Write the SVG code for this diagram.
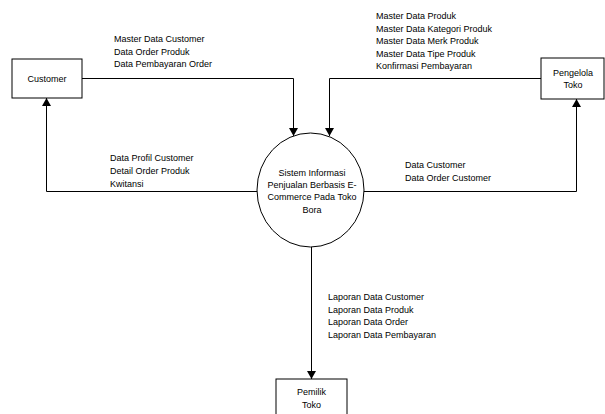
<svg xmlns="http://www.w3.org/2000/svg" width="605" height="414" viewBox="0 0 605 414">
<defs>
<marker id="arr" markerWidth="8" markerHeight="9" refX="8" refY="4.5" orient="auto" markerUnits="userSpaceOnUse">
<path d="M0,0 L8,4.5 L0,9 Z" fill="#000"/>
</marker>
<style>
text{font-family:"Liberation Sans",Arial,sans-serif;font-size:9px;fill:#000}
.c{text-anchor:middle}
.box{fill:#fff;stroke:#000;stroke-width:1}
.ln{fill:none;stroke:#000;stroke-width:1;marker-end:url(#arr)}
</style>
</defs>
<rect width="605" height="414" fill="#fff"/>
<g id="connectors">
<path class="ln" d="M82,78.5 H293.5 V136"/>
<path class="ln" d="M541,78.5 H329.5 V136"/>
<path class="ln" d="M257,191.5 H46.5 V98"/>
<path class="ln" d="M364,191.5 H576.5 V99"/>
<path class="ln" d="M311.5,247 V379"/>
</g>
<g id="labels">
<text x="114" y="42">Master Data Customer</text>
<text x="114" y="54.5">Data Order Produk</text>
<text x="114" y="67">Data Pembayaran Order</text>
<text x="376" y="19">Master Data Produk</text>
<text x="376" y="31.5">Master Data Kategori Produk</text>
<text x="376" y="44">Master Data Merk Produk</text>
<text x="376" y="56.5">Master Data Tipe Produk</text>
<text x="376" y="69">Konfirmasi Pembayaran</text>
<text x="110" y="161">Data Profil Customer</text>
<text x="110" y="174">Detail Order Produk</text>
<text x="110" y="187">Kwitansi</text>
<text x="405" y="168">Data Customer</text>
<text x="405" y="181">Data Order Customer</text>
<text x="328" y="300">Laporan Data Customer</text>
<text x="328" y="312.5">Laporan Data Produk</text>
<text x="328" y="325">Laporan Data Order</text>
<text x="328" y="337.5">Laporan Data Pembayaran</text>
</g>
<g id="customer">
<rect class="box" x="12" y="59" width="70" height="39"/>
<text class="c" x="47" y="81.5">Customer</text>
</g>
<g id="pengelola">
<rect class="box" x="541" y="58" width="63" height="41"/>
<text class="c" x="573" y="75.5">Pengelola</text>
<text class="c" x="573" y="88">Toko</text>
</g>
<g id="sistem">
<ellipse class="box" cx="310.5" cy="190" rx="53.5" ry="57"/>
<text class="c" x="312" y="176">Sistem Informasi</text>
<text class="c" x="312" y="188">Penjualan Berbasis E-</text>
<text class="c" x="312" y="200">Commerce Pada Toko</text>
<text class="c" x="312" y="213">Bora</text>
</g>
<g id="pemilik">
<rect class="box" x="276" y="379" width="71" height="40"/>
<text class="c" x="311.5" y="395">Pemilik</text>
<text class="c" x="311.5" y="407.5">Toko</text>
</g>
</svg>
